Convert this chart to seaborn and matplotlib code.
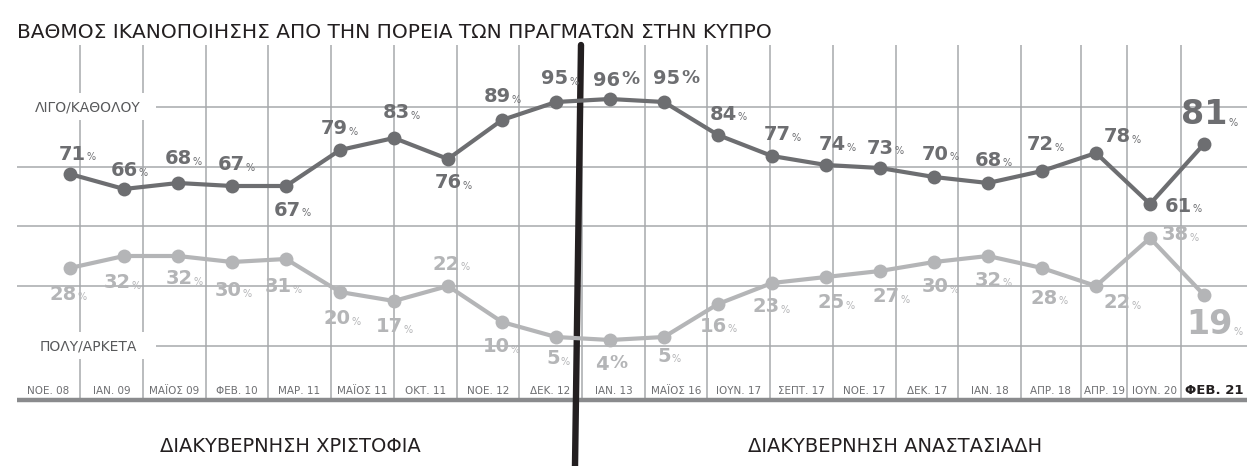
import matplotlib
matplotlib.use("Agg")
import matplotlib.pyplot as plt
import seaborn as sns
import pandas as pd
from matplotlib.patches import Rectangle
from matplotlib.lines import Line2D

# survey rounds shown on the bottom strip
periods = ['ΝΟΕ. 08', 'ΙΑΝ. 09', 'ΜΑΪΟΣ 09', 'ΦΕΒ. 10', 'ΜΑΡ. 11', 'ΜΑΪΟΣ 11', 'ΟΚΤ. 11',
           'ΝΟΕ. 12', 'ΔΕΚ. 12', 'ΙΑΝ. 13', 'ΜΑΪΟΣ 16', 'ΙΟΥΝ. 17', 'ΣΕΠΤ. 17', 'ΝΟΕ. 17',
           'ΔΕΚ. 17', 'ΙΑΝ. 18', 'ΑΠΡ. 18', 'ΑΠΡ. 19', 'ΙΟΥΝ. 20', 'ΦΕΒ. 21']

# answers (%) per poll
little_none = [71, 66, 68, 67, 67, 79, 83, 76, 89, 95, 96, 95, 84, 77, 74, 73, 70, 68, 72, 78, 61, 81]
much_enough = [28, 32, 32, 30, 31, 20, 17, 22, 10, 5, 4, 5, 16, 23, 25, 27, 30, 32, 28, 22, 38, 19]

title = 'ΒΑΘΜΟΣ ΙΚΑΝΟΠΟΙΗΣΗΣ ΑΠΟ ΤΗΝ ΠΟΡΕΙΑ ΤΩΝ ΠΡΑΓΜΑΤΩΝ ΣΤΗΝ ΚΥΠΡΟ'
gov_left = 'ΔΙΑΚΥΒΕΡΝΗΣΗ ΧΡΙΣΤΟΦΙΑ'
gov_right = 'ΔΙΑΚΥΒΕΡΝΗΣΗ ΑΝΑΣΤΑΣΙΑΔΗ'

df = pd.DataFrame({'poll': range(len(little_none)), 'little': little_none, 'much': much_enough})

# layout (pixels)
W, H = 1247, 466
cell_edges = [17, 80, 143, 206, 268, 331, 394, 457, 519, 582, 645, 707, 770, 833,
              896, 958, 1021, 1081, 1127, 1181, 1247]
top_px, base_px = 45, 400
dark_c = '#6d6e71'
light_c = '#b4b5b7'
grid_c = '#a7a9ac'

# label offsets (pixels) from each point: (dx, dy), dy up
dark_off = [(2, 20), (0, 19), (0, 24), (-1, 21), (1, -24), (-6, 21), (2, 25), (0, -24), (-5, 23),
            (-1, 23), (-3, 19), (3, 23), (5, 21), (5, 21), (6, 20), (0, 20), (1, 23), (0, 23),
            (-2, 26), (21, 16), (28, -2), (0, 29)]
light_off = [(-7, -26), (-7, -27), (1, -23), (-4, -29), (-8, -28), (-3, -27), (-5, -26), (-2, 22),
             (-6, -25), (-3, -22), (-8, -24), (0, -19), (-5, -22), (-6, -24), (5, -26), (6, -26),
             (1, -25), (0, -24), (2, -30), (21, -17), (25, 3), (5, -29)]
dark_bigpct = [10, 11]
light_bigpct = [10]

sns.set_style('white')
plt.rcParams['font.family'] = ['DejaVu Sans']
narrow = ['Liberation Sans Narrow', 'DejaVu Sans']

fig = plt.figure(figsize=(W / 100, H / 100), dpi=100)
rect = [cell_edges[0] / W, 1 - base_px / H, (W - cell_edges[0]) / W, (base_px - top_px) / H]

# background grid / strip axes in pixel units
axc = fig.add_axes(rect, zorder=0)
axc.set_xlim(cell_edges[0], W)
axc.set_ylim(base_px, top_px)
axc.axis('off')
axc.hlines([107, 167, 226, 286, 346], cell_edges[0], W, color=grid_c, lw=1.1)
axc.vlines(cell_edges[1:-1], top_px, base_px, color=grid_c, lw=1.1)
axc.hlines(base_px, cell_edges[0], W, color='#8a8b8d', lw=3.2, clip_on=False)
for lab_y, lab in [(107, 'ΛΙΓΟ/ΚΑΘΟΛΟΥ'), (346, 'ΠΟΛΥ/ΑΡΚΕΤΑ')]:
    axc.add_patch(Rectangle((cell_edges[0], lab_y - 14), 139, 27, facecolor='white', edgecolor='none', zorder=3))
    axc.text(88, lab_y, lab, ha='center', va='center', fontsize=10, color='#58595b',
             family=narrow, zorder=4)
for i, p in enumerate(periods):
    cx = (cell_edges[i] + cell_edges[i + 1]) / 2
    last = i == len(periods) - 1
    axc.text(cx, 391, p, ha='center', va='center', fontsize=9.5 if last else 7.5,
             fontweight='bold' if last else 'normal', color='#231f20' if last else '#6d6e71',
             family=narrow)

# divider between governments
fig.add_artist(Line2D([581 / W, 575 / W], [1 - top_px / H, 0], color='#231f20', lw=4.6, zorder=0.5))

# data axes
k = 54.0
xmin = -(70 - cell_edges[0]) / k
xmax = xmin + (W - cell_edges[0]) / k
ax = fig.add_axes(rect, zorder=1)
ax.patch.set_visible(False)
ax2 = ax.twinx()
ax2.set_zorder(2)
ax2.patch.set_visible(False)

sns.lineplot(data=df, x='poll', y='much', ax=ax, color=light_c, lw=3, marker='o',
             markersize=10, markeredgewidth=0)
sns.lineplot(data=df, x='poll', y='little', ax=ax2, color=dark_c, lw=3, marker='o',
             markersize=10, markeredgewidth=0)

ax.set_xlim(xmin, xmax)
ax.set_ylim((352 - base_px) / 3, (352 - top_px) / 3)
ax2.set_ylim((387 - base_px) / 3, (387 - top_px) / 3)
for a in (ax, ax2):
    a.set_xticks([])
    a.set_yticks([])
    a.set_xlabel('')
    a.set_ylabel('')
    for s in a.spines.values():
        s.set_visible(False)


def put_label(a, x, v, dx, dy, color, size, pct_size, pct_weight):
    t = a.annotate(str(v), xy=(x, v), xytext=(dx, dy), textcoords='offset pixels',
                   ha='center', va='center', fontsize=size, fontweight='bold', color=color,
                   zorder=6, annotation_clip=False)
    a.annotate('%', xy=(1, 0.1), xycoords=t, xytext=(1, 0), textcoords='offset pixels',
               ha='left', va='bottom', fontsize=pct_size, fontweight=pct_weight, color=color,
               zorder=6, annotation_clip=False)


n = len(little_none)
for i in range(n):
    big = i == n - 1
    size = 24 if big else 14
    if i in dark_bigpct:
        put_label(ax2, i, little_none[i], *dark_off[i], dark_c, size, 13, 'bold')
    else:
        put_label(ax2, i, little_none[i], *dark_off[i], dark_c, size, 7, 'normal')
    if i in light_bigpct:
        put_label(ax, i, much_enough[i], *light_off[i], light_c, size, 13, 'bold')
    else:
        put_label(ax, i, much_enough[i], *light_off[i], light_c, size, 7, 'normal')

fig.text(17 / W, 1 - 32 / H, title, ha='left', va='center', fontsize=14.5, color='#231f20')
fig.text(290 / W, 1 - 447 / H, gov_left, ha='center', va='center', fontsize=14, color='#231f20')
fig.text(895 / W, 1 - 447 / H, gov_right, ha='center', va='center', fontsize=14, color='#231f20')

fig.savefig('out.png', dpi=100, facecolor='white')
